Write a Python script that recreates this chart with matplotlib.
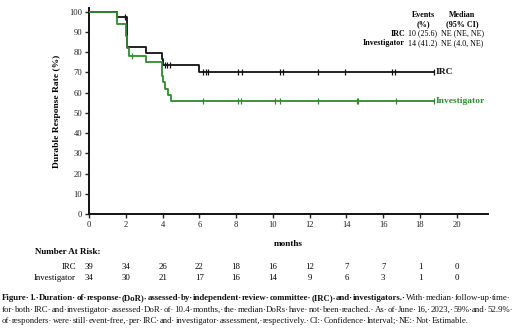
import matplotlib
matplotlib.use("Agg")
import matplotlib.pyplot as plt
from matplotlib.transforms import blended_transform_factory

plt.rcParams['font.family'] = ['Liberation Serif', 'DejaVu Serif']

# ---- data ----
irc_times = [0, 1.5, 2.05, 3.08, 3.95, 4.02, 6.0]
irc_surv = [100, 97.4, 82.6, 79.8, 76.8, 73.7, 70.4]
irc_end = 18.77
irc_censor = [1.95, 4.14, 4.23, 4.38, 6.22, 6.35, 6.49, 8.12, 8.31,
              10.4, 10.57, 12.48, 13.9, 16.47, 16.65, 18.77]

inv_times = [0, 1.5, 2.0, 2.05, 2.2, 3.08, 3.95, 4.05, 4.15, 4.3, 4.45]
inv_surv = [100, 94.1, 88.0, 82.0, 78.2, 75.1, 68.3, 65.0, 62.0, 59.0, 55.6]
inv_end = 18.77
inv_censor = [2.32, 6.22, 8.09, 8.25, 10.12, 10.39, 12.48, 14.56, 14.65,
              16.69, 18.77]

risk_times = [0, 2, 4, 6, 8, 10, 12, 14, 16, 18, 20]
risk_irc = [39, 34, 26, 22, 18, 16, 12, 7, 7, 1, 0]
risk_inv = [34, 30, 21, 17, 16, 14, 9, 6, 3, 1, 0]

x_ticks = [0, 2, 4, 6, 8, 10, 12, 14, 16, 18, 20]
y_ticks = [0, 10, 20, 30, 40, 50, 60, 70, 80, 90, 100]

BLACK = '#111111'
GREEN = '#2e8b2e'

W, H = 520, 328
fig = plt.figure(figsize=(W / 100, H / 100), dpi=100)
ax = fig.add_axes([89 / W, 1 - 214 / H, (488 - 89) / W, (214 - 8) / H])


def km(ax, times, surv, end, censor, color):
    xs = list(times) + [end]
    ys = list(surv) + [surv[-1]]
    ax.step(xs, ys, where='post', color=color, lw=1.3, zorder=3)
    cy = []
    for c in censor:
        v = surv[0]
        for t, s in zip(times, surv):
            if t <= c:
                v = s
        cy.append(v)
    ax.plot(censor, cy, ls='none', marker='|', ms=4, mew=0.9, color=color, zorder=4)


km(ax, irc_times, irc_surv, irc_end, irc_censor, BLACK)
km(ax, inv_times, inv_surv, inv_end, inv_censor, GREEN)

ax.set_xlim(0, 21.7)
ax.set_ylim(0, 101.8)
ax.set_xticks(x_ticks)
ax.set_yticks(y_ticks)
ax.tick_params(labelsize=6.2, length=3, width=1, pad=2, colors='#222222')
for s in ['top', 'right']:
    ax.spines[s].set_visible(False)
for s in ['left', 'bottom']:
    ax.spines[s].set_linewidth(1.4)
    ax.spines[s].set_color('#111111')

ax.set_ylabel('Durable Response Rate (%)', fontsize=6.8, fontweight='bold', labelpad=6)
ax.set_xlabel('months', fontsize=6.6, fontweight='bold', labelpad=8)

# curve labels
ax.text(irc_end + 0.1, irc_surv[-1], 'IRC', color=BLACK, fontsize=6.8,
        fontweight='bold', va='center', ha='left')
ax.text(inv_end + 0.1, inv_surv[-1], 'Investigator', color=GREEN, fontsize=6.8,
        fontweight='bold', va='center', ha='left')

# table
fs_t = 5.8
def fy(py):
    return 1 - py / H
fig.text(423 / W, fy(15), 'Events', fontsize=fs_t, fontweight='bold', ha='center', va='center')
fig.text(423 / W, fy(24.3), '(%)', fontsize=fs_t, fontweight='bold', ha='center', va='center')
fig.text(462 / W, fy(15), 'Median', fontsize=fs_t, fontweight='bold', ha='center', va='center')
fig.text(462 / W, fy(24.3), '(95% CI)', fontsize=fs_t, fontweight='bold', ha='center', va='center')
fig.text(405 / W, fy(33.5), 'IRC', fontsize=fs_t, fontweight='bold', ha='right', va='center')
fig.text(405 / W, fy(42.7), 'Investigator', fontsize=fs_t, fontweight='bold', ha='right', va='center')
fig.text(408 / W, fy(33.5), '10 (25.6)', fontsize=fs_t, ha='left', va='center')
fig.text(408 / W, fy(42.7), '14 (41.2)', fontsize=fs_t, ha='left', va='center')
fig.text(441 / W, fy(33.5), 'NE (NE, NE)', fontsize=fs_t, ha='left', va='center')
fig.text(441 / W, fy(42.7), 'NE (4.0, NE)', fontsize=fs_t, ha='left', va='center')

# number at risk
tr = blended_transform_factory(ax.transData, fig.transFigure)
fig.text(35 / W, fy(252), 'Number At Risk:', fontsize=6.5, fontweight='bold', ha='left', va='center')
fig.text(76 / W, fy(267), 'IRC', fontsize=6.3, ha='right', va='center')
fig.text(76 / W, fy(278.5), 'Investigator', fontsize=6.3, ha='right', va='center')
for t, a, b in zip(risk_times, risk_irc, risk_inv):
    ax.text(t, fy(267), str(a), transform=tr, fontsize=6.3, ha='center', va='center')
    ax.text(t, fy(278.5), str(b), transform=tr, fontsize=6.3, ha='center', va='center')

# caption: one text per word (with its Word-style "·" space mark), positions from
# cumulative widths so that spacing stays natural
D = '\u00b7'
bold_words = ('Figure 1. Duration of response (DoR) assessed by independent review '
              'committee (IRC) and investigators.').split()
line1_normal = 'With median follow-up time'.split()
line2_words = ('for both IRC and investigator assessed DoR of 10.4 months, the median '
               'DoRs have not been reached. As of June 16, 2023, 59% and 52.9%').split()
line3_words = ('of responders were still event-free, per IRC and investigator assessment, '
               'respectively. CI: Confidence Interval; NE: Not Estimable.').split()

r = fig.canvas.get_renderer()
tc = '#111111'
base = 7.0


def width(s, fs, bold):
    t = fig.text(0, 0, s, fontsize=fs, fontweight='bold' if bold else 'normal')
    w = t.get_window_extent(r).width
    t.remove()
    return w


def line(words, y, target, x0=2, last_dot=True):
    # words: list of (word, bold)
    toks = []
    for i, (w, b) in enumerate(words):
        s = w + (D if (i < len(words) - 1 or last_dot) else '')
        toks.append((s, b))
    total = sum(width(s, base, b) for s, b in toks)
    fs = base * target / total
    x = x0
    for s, b in toks:
        fig.text(x / W, fy(y), s, fontsize=fs, fontweight='bold' if b else 'normal',
                 ha='left', va='center', color=tc)
        x += width(s, fs, b)


line([(w, True) for w in bold_words] + [(w, False) for w in line1_normal], 298, 516)
line([(w, False) for w in line2_words], 309.7, 516)
line([(w, False) for w in line3_words], 321, 470, last_dot=False)

fig.savefig('out.png', dpi=100)
